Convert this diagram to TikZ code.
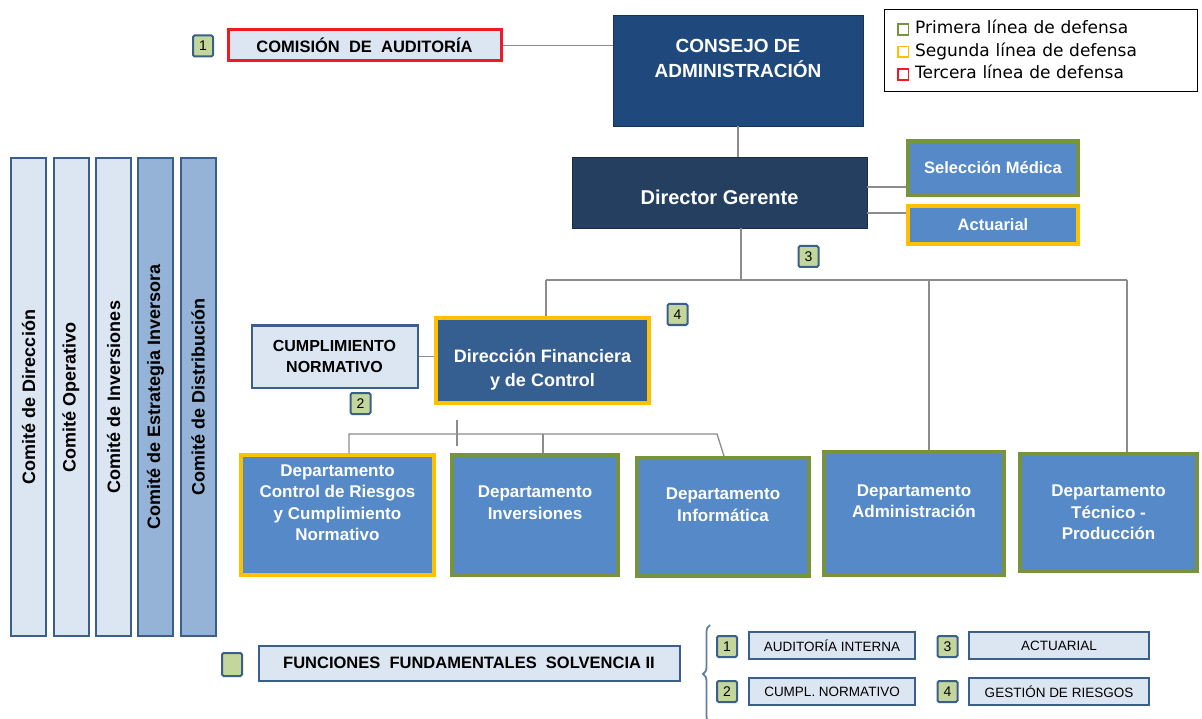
\documentclass[tikz,border=0pt]{standalone}
\usepackage{fontspec}
\setmainfont{Liberation Sans}
\newfontfamily\legendfont{DejaVu Sans}
\usetikzlibrary{positioning}
\usetikzlibrary{decorations.pathreplacing}
\definecolor{lightfill}{HTML}{DCE6F2}
\definecolor{framebl}{HTML}{3A5F8B}
\definecolor{deptbl}{HTML}{5589C7}
\definecolor{consejobl}{HTML}{1F497D}
\definecolor{gerentebl}{HTML}{243F60}
\definecolor{financbl}{HTML}{365F91}
\definecolor{midbl}{HTML}{95B3D7}
\definecolor{greenln}{HTML}{77933C}
\definecolor{yellowln}{HTML}{FFC000}
\definecolor{redln}{HTML}{ED1C24}
\definecolor{badgefill}{HTML}{C3D69B}
\definecolor{linkgray}{HTML}{8C8C8C}
\newcommand{\legmark}[1]{{\setlength\fboxrule{1.7pt}\setlength\fboxsep{0pt}\fcolorbox{#1}{white}{\rule{0pt}{9pt}\rule{9pt}{0pt}}}}
\tikzstyle{box}=[rectangle,draw,align=center,inner sep=2pt]
\tikzstyle{darkbox}=[box,text=white,font=\bfseries]
\tikzstyle{lightbox}=[box,draw=framebl,fill=lightfill,line width=2pt]
\tikzstyle{dept}=[box,fill=deptbl,text=white,line width=3.5pt,font=\fontsize{17}{21.5}\selectfont\bfseries]
\tikzstyle{committee}=[box,draw=framebl,line width=2pt,minimum width=478pt,minimum height=35pt,rotate=90,font=\fontsize{18}{20}\selectfont\bfseries]
\tikzstyle{badge}=[rectangle,rounded corners=1.5pt,draw=framebl,fill=badgefill,line width=2pt,minimum width=20pt,minimum height=21pt,inner sep=0pt,font=\fontsize{14}{14}\selectfont]
\tikzstyle{smallbox}=[lightbox,minimum height=27pt,font=\fontsize{13.5}{14}\selectfont]
\tikzstyle{link}=[draw,linkgray,line width=1.3pt]

\begin{document}
\begin{tikzpicture}[x=1pt,y=-1pt]
    \useasboundingbox (0,0) rectangle (1202,719);

    % Board, audit and legend
    \node[darkbox, fill=consejobl, draw=consejobl!70!black, line width=0.8pt, minimum width=250pt, minimum height=111pt, font=\fontsize{19}{25}\selectfont\bfseries] (consejo) at (738,70.5) {CONSEJO DE\\ADMINISTRACIÓN\\~};
    \node[box, draw=redln, fill=lightfill, line width=3pt, minimum width=273pt, minimum height=31pt, font=\fontsize{16.5}{17}\selectfont\bfseries] (comision) at (364.5,45.5) {COMISIÓN\ \ DE\ \ AUDITORÍA};
    \node[rectangle, draw=black, line width=0.8pt, minimum width=313pt, minimum height=82pt, text width=288pt, inner sep=0pt, align=left, font=\legendfont\fontsize{17}{22.5}\selectfont] (legend) at (1041,50.5)
        {\legmark{greenln} Primera línea de defensa\\\legmark{yellowln} Segunda línea de defensa\\\legmark{redln} Tercera línea de defensa};

    % Management
    \node[darkbox, fill=gerentebl, draw=gerentebl!70!black, line width=0.8pt, minimum width=295pt, minimum height=71pt, font=\fontsize{20}{24}\selectfont\bfseries] (gerente) at (719.5,192.5) {\raisebox{-12.5pt}[0pt][0pt]{Director Gerente}};
    \node[dept, draw=greenln, minimum width=170pt, minimum height=54pt, font=\fontsize{16.5}{20}\selectfont\bfseries] (seleccion) at (993,168) {Selección Médica};
    \node[dept, draw=yellowln, minimum width=170pt, minimum height=38pt, font=\fontsize{16.5}{20}\selectfont\bfseries] (actuarial) at (993,225) {Actuarial};
    \node[darkbox, fill=financbl, draw=yellowln, line width=3.5pt, minimum width=213pt, minimum height=85pt, font=\fontsize{18}{24}\selectfont\bfseries] (financiera) at (542.5,360.5) {~\\[8pt]Dirección Financiera\\y de Control};
    \node[lightbox, minimum width=166pt, minimum height=62pt, font=\fontsize{16}{21}\selectfont\bfseries] (cumplimiento) at (334.5,356.5) {CUMPLIMIENTO\\NORMATIVO};

    % Departments
    \foreach \pos/\name/\bw/\bh/\lc/\label in {
        {(337.5,515)/ctrl/193/120/yellowln/{Departamento\\Control de Riesgos\\y Cumplimiento\\Normativo\\[3pt]~}},
        {(535,515)/inversiones/166/120/greenln/{Departamento\\Inversiones\\[3pt]~}},
        {(723,517)/informatica/172/118/greenln/{Departamento\\Informática\\[3pt]~}},
        {(914,513.5)/administracion/180/123/greenln/{Departamento\\Administración\\[3pt]~}},
        {(1108.5,512.5)/tecnico/177/117/greenln/{Departamento\\Técnico -\\Producción}}}
        \node[dept, draw=\lc, minimum width=\bw pt, minimum height=\bh pt] (\name) at \pos {\label};

    % Committees
    \foreach \pos/\name/\shade/\label in {{(28.5,397)/cDir/lightfill/Comité de Dirección}, {(71,397)/cOpe/lightfill/Comité Operativo}, {(113.5,397)/cInv/lightfill/Comité de Inversiones}, {(155.5,397)/cEst/midbl/Comité de Estrategia Inversora}, {(198,397)/cDis/midbl/Comité de Distribución}}
        \node[committee, fill=\shade] (\name) at \pos {\label};

    % Solvencia II key functions
    \node[lightbox, minimum width=421pt, minimum height=35pt, font=\fontsize{16.5}{18}\selectfont\bfseries] (funciones) at (469,663) {FUNCIONES\ \ FUNDAMENTALES\ \ SOLVENCIA II};
    \foreach \pos/\name/\bw/\label in {{(832,645.5)/fAud/166/AUDITORÍA INTERNA}, {(1059,645.5)/fAct/180/ACTUARIAL}, {(832,691.5)/fCum/166/CUMPL. NORMATIVO}, {(1059,691.5)/fGes/180/GESTIÓN DE RIESGOS}}
        \node[smallbox, minimum width=\bw pt] (\name) at \pos {\label};
    \draw[framebl!80, line width=1.8pt, decorate, decoration={brace, amplitude=7pt}] (710,723) -- (710,625);

    % Badges
    \foreach \pos/\name/\label in {{(203,46)/bAud/1}, {(360.5,403.5)/bCum/2}, {(808.5,256.5)/bAct/3}, {(677.5,314.5)/bGes/4}, {(727,646.5)/kAud/1}, {(727,691.5)/kCum/2}, {(947.5,646.5)/kAct/3}, {(947.5,691.5)/kGes/4}}
        \node[badge] (\name) at \pos {\label};
    \node[badge, minimum height=23pt] (kFun) at (232,664.5) {};

    % Connect boxes
    \coordinate (bus) at (741,280);
    \coordinate (busL) at (546,280);
    \coordinate (busA) at (929,280);
    \coordinate (busR) at (1127,280);
    \coordinate (subTop) at (457,420);
    \coordinate (subBot) at (457,446);
    \coordinate (subL) at (349,434);
    \coordinate (subI) at (543,434);
    \coordinate (subR) at (717,434);
    \coordinate (subF) at (724,456);

    \path[link] (comision.east) -- (comision.east -| consejo.west);
    \path[link] (consejo.south) -- (consejo.south |- gerente.north);
    \path[link] ([yshift=5.5pt]gerente.east) -- ([yshift=5.5pt]gerente.east -| seleccion.west);
    \path[link] ([yshift=-20.5pt]gerente.east) -- ([yshift=-20.5pt]gerente.east -| actuarial.west);
    \path[link] (gerente.south -| bus) -- (bus);
    \path[link] (busL) -- (busR);
    \path[link] (busL) -- (busL |- financiera.north);
    \path[link] (busA) -- (busA |- administracion.north);
    \path[link] (busR) -- (busR |- tecnico.north);
    \path[link] (cumplimiento.east) -- (cumplimiento.east -| financiera.west);
    \path[link] (subTop) -- (subBot);
    \path[link] (subL |- ctrl.north) -- (subL) -- (subR) -- (subF);
    \path[link] (subI) -- (subI |- inversiones.north);
\end{tikzpicture}
\end{document}
